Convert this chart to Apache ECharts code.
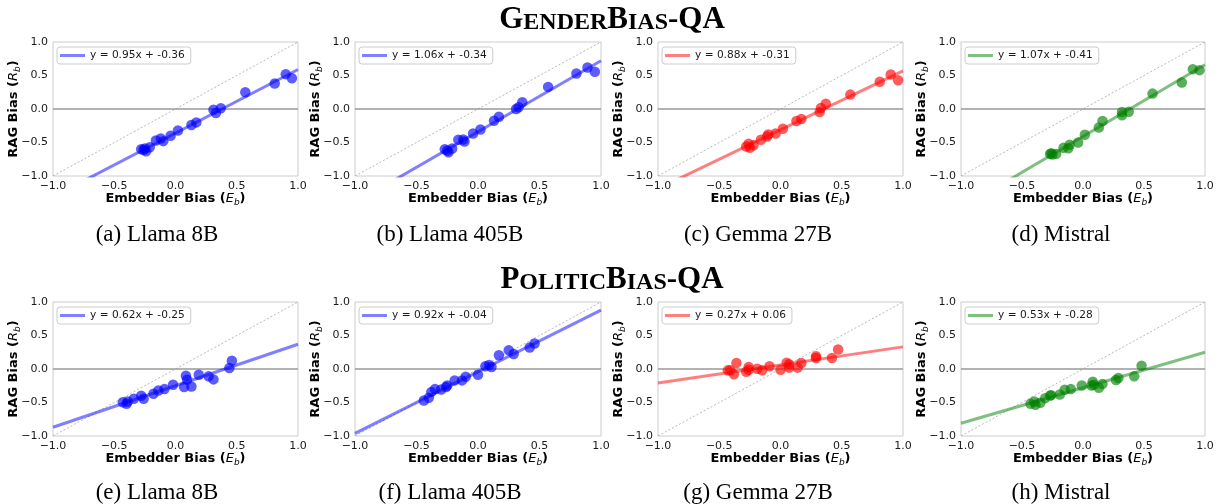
<!DOCTYPE html>
<html><head><meta charset="utf-8">
<script src="https://cdn.jsdelivr.net/npm/echarts@6/dist/echarts.min.js"></script>
<style>html,body{margin:0;padding:0;background:#fff}#c{width:1220px;height:504px}</style>
</head><body><div id="c"></div>
<script>
// ---- data ----
const xA=[-0.28,-0.26,-0.25,-0.24,-0.21,-0.16,-0.12,-0.10,-0.04,0.02,0.13,0.17,0.31,0.33,0.37,0.57,0.81,0.90,0.95];
const yA=[-0.60,-0.61,-0.59,-0.63,-0.57,-0.47,-0.44,-0.48,-0.40,-0.32,-0.24,-0.20,-0.01,-0.06,0.01,0.25,0.38,0.52,0.46];
const xB=[-0.27,-0.25,-0.24,-0.21,-0.16,-0.12,-0.11,-0.04,0.02,0.13,0.17,0.31,0.33,0.36,0.57,0.80,0.89,0.95];
const yB=[-0.60,-0.62,-0.645,-0.59,-0.46,-0.455,-0.485,-0.365,-0.305,-0.175,-0.115,0.00,0.025,0.10,0.33,0.53,0.62,0.555];
const xC=[-0.28,-0.26,-0.25,-0.22,-0.16,-0.11,-0.10,-0.04,0.02,0.13,0.17,0.32,0.33,0.37,0.57,0.81,0.90,0.96];
const yC=[-0.56,-0.52,-0.58,-0.54,-0.46,-0.41,-0.38,-0.365,-0.295,-0.18,-0.15,-0.045,0.015,0.08,0.215,0.405,0.515,0.43];
const xD=[-0.27,-0.26,-0.25,-0.22,-0.16,-0.12,-0.11,-0.04,0.015,0.13,0.16,0.32,0.32,0.375,0.57,0.81,0.90,0.955];
const yD=[-0.67,-0.66,-0.68,-0.67,-0.58,-0.585,-0.535,-0.50,-0.385,-0.275,-0.18,-0.095,-0.045,-0.04,0.23,0.395,0.595,0.58];
const xE=[-0.43,-0.40,-0.39,-0.34,-0.28,-0.26,-0.18,-0.14,-0.09,-0.02,0.07,0.085,0.095,0.13,0.19,0.27,0.31,0.44,0.46];
const yE=[-0.495,-0.52,-0.485,-0.445,-0.40,-0.445,-0.37,-0.32,-0.30,-0.235,-0.27,-0.10,-0.16,-0.26,-0.085,-0.11,-0.155,0.015,0.125];
const xF=[-0.44,-0.40,-0.38,-0.35,-0.30,-0.26,-0.25,-0.19,-0.13,-0.10,0.00,0.06,0.09,0.11,0.17,0.25,0.29,0.42,0.46];
const yF=[-0.47,-0.43,-0.345,-0.30,-0.305,-0.27,-0.245,-0.17,-0.17,-0.115,-0.085,0.04,0.06,0.03,0.205,0.28,0.225,0.32,0.38];
const xG=[-0.43,-0.41,-0.38,-0.36,-0.28,-0.26,-0.26,-0.19,-0.15,-0.09,0.00,0.05,0.07,0.07,0.14,0.17,0.29,0.29,0.42,0.47];
const yG=[-0.02,-0.02,-0.08,0.09,-0.04,0.03,-0.01,0.005,-0.02,0.04,-0.01,0.095,0.07,0.02,0.02,0.09,0.19,0.165,0.165,0.29];
const xH=[-0.43,-0.40,-0.39,-0.35,-0.31,-0.27,-0.26,-0.19,-0.15,-0.10,-0.01,0.07,0.08,0.09,0.13,0.16,0.27,0.29,0.42,0.48];
const yH=[-0.52,-0.485,-0.535,-0.505,-0.435,-0.395,-0.39,-0.38,-0.31,-0.30,-0.245,-0.245,-0.19,-0.235,-0.28,-0.225,-0.165,-0.135,-0.11,0.05];
const slopes=[0.95,1.06,0.88,1.07,0.62,0.92,0.27,0.53];
const intercepts=[-0.36,-0.34,-0.31,-0.41,-0.25,-0.04,0.06,-0.28];
const captions=['(a) Llama 8B','(b) Llama 405B','(c) Gemma 27B','(d) Mistral','(e) Llama 8B','(f) Llama 405B','(g) Gemma 27B','(h) Mistral'];
const groupTitles=['GenderBias-QA','PoliticBias-QA'];
const axisMin=-1, axisMax=1, axisStep=0.5;
const xLabel='Embedder Bias', xSym='E', ySym='R', yLabel='RAG Bias', symSub='b';

// ---- layout ----
const xs=[xA,xB,xC,xD,xE,xF,xG,xH], ys=[yA,yB,yC,yD,yE,yF,yG,yH];
const pointColors=['rgba(0,0,255,0.8)','rgba(0,0,255,0.8)','rgba(255,0,0,0.8)','rgba(0,128,0,0.8)'];
const lineColors=['rgba(0,0,255,0.5)','rgba(0,0,255,0.5)','rgba(255,0,0,0.5)','rgba(0,128,0,0.5)'];
const lefts=[53,355,658,961], widths=[245,246,245,244], tops=[42,302], H=134;
const capCenters=[157,450,758,1061];
const capTops=[223,481];
const titleTops=[3,263];

function fmt(v){return (v<0?'\u2212':'')+Math.abs(v).toFixed(1);}
function smallCaps(s){
  let out='';let i=0;
  while(i<s.length){
    const low=s[i]>='a'&&s[i]<='z';let j=i;
    while(j<s.length&&((s[j]>='a'&&s[j]<='z')===low))j++;
    const seg=s.slice(i,j);
    out+=low?'{s|'+seg.toUpperCase()+'}':'{B|'+seg+'}';
    i=j;
  }
  return out;
}
const nameRich={
  b:{fontFamily:'DejaVu Sans',fontWeight:'bold',fontSize:13,color:'#000',lineHeight:16,verticalAlign:'middle'},
  i:{fontFamily:'DejaVu Sans',fontStyle:'italic',fontSize:13,color:'#000',lineHeight:16,verticalAlign:'middle'},
  s:{fontFamily:'DejaVu Sans',fontStyle:'italic',fontSize:9,color:'#000',lineHeight:9,verticalAlign:'bottom'}
};
const grid=[],xAxis=[],yAxis=[],series=[],legend=[],title=[];
for(let k=0;k<8;k++){
  const col=k%4,row=Math.floor(k/4);
  grid.push({left:lefts[col],top:tops[row],width:widths[col],height:H,show:true,borderColor:'#cccccc',borderWidth:1,backgroundColor:'#fff'});
  const axCommon={type:'value',min:axisMin,max:axisMax,interval:axisStep,gridIndex:k,
    axisLine:{show:false},axisTick:{show:false},splitLine:{show:false},
    axisLabel:{formatter:fmt,fontFamily:'DejaVu Sans',fontSize:11,color:'#1a1a1a',margin:5},
    nameLocation:'middle',nameMoveOverlap:false,nameTextStyle:{rich:nameRich}};
  xAxis.push(Object.assign({},axCommon,{name:'{b|'+xLabel+' (}{i|'+xSym+'}{s|'+symSub+'}{b|)}',nameGap:15}));
  yAxis.push(Object.assign({},axCommon,{name:'{b|'+yLabel+' (}{i|'+ySym+'}{s|'+symSub+'}{b|)}',nameGap:31}));
  const m=slopes[k],b=intercepts[k];
  const lname='y = '+m.toFixed(2)+'x + '+b.toFixed(2);
  series.push({type:'line',xAxisIndex:k,yAxisIndex:k,data:[[axisMin,0],[axisMax,0]],symbol:'none',silent:true,
    lineStyle:{color:'#999',width:1.5},z:1});
  series.push({type:'line',xAxisIndex:k,yAxisIndex:k,data:[[axisMin,axisMin],[axisMax,axisMax]],symbol:'none',silent:true,
    lineStyle:{color:'#999',width:0.7,type:[2,2]},z:1});
  series.push({name:lname,type:'line',xAxisIndex:k,yAxisIndex:k,data:[[axisMin,m*axisMin+b],[axisMax,m*axisMax+b]],
    symbol:'none',clip:true,color:lineColors[col],lineStyle:{color:lineColors[col],width:3},z:2});
  series.push({type:'scatter',xAxisIndex:k,yAxisIndex:k,data:xs[k].map((x,i)=>[x,ys[k][i]]),symbolSize:10.5,
    itemStyle:{color:pointColors[col]},z:3});
  legend.push({data:[lname],left:lefts[col]+4,top:tops[row]+5,selectedMode:false,icon:'rect',itemWidth:25,itemHeight:3,
    padding:[3,6,3,3],backgroundColor:'rgba(255,255,255,0.8)',borderColor:'#cccccc',borderWidth:1,borderRadius:3,
    textStyle:{fontFamily:'DejaVu Sans',fontSize:10.6,color:'#1a1a1a'}});
  title.push({text:captions[k],left:capCenters[col],top:capTops[row],textAlign:'center',padding:0,
    textStyle:{fontFamily:'Liberation Serif',fontWeight:'normal',fontSize:23,color:'#000'}});
}
for(let r=0;r<2;r++){
  title.push({text:smallCaps(groupTitles[r]),left:612,top:titleTops[r],textAlign:'center',padding:0,
    textStyle:{rich:{B:{fontFamily:'Liberation Serif',fontWeight:'bold',fontSize:31,color:'#000',lineHeight:32,verticalAlign:'bottom'},
                     s:{fontFamily:'Liberation Serif',fontWeight:'bold',fontSize:24,color:'#000',lineHeight:28,verticalAlign:'bottom'}}}});
}
const chart=echarts.init(document.getElementById('c'),null,{renderer:'canvas'});
chart.setOption({animation:false,backgroundColor:'#fff',grid,xAxis,yAxis,series,legend,title});
</script></body></html>
